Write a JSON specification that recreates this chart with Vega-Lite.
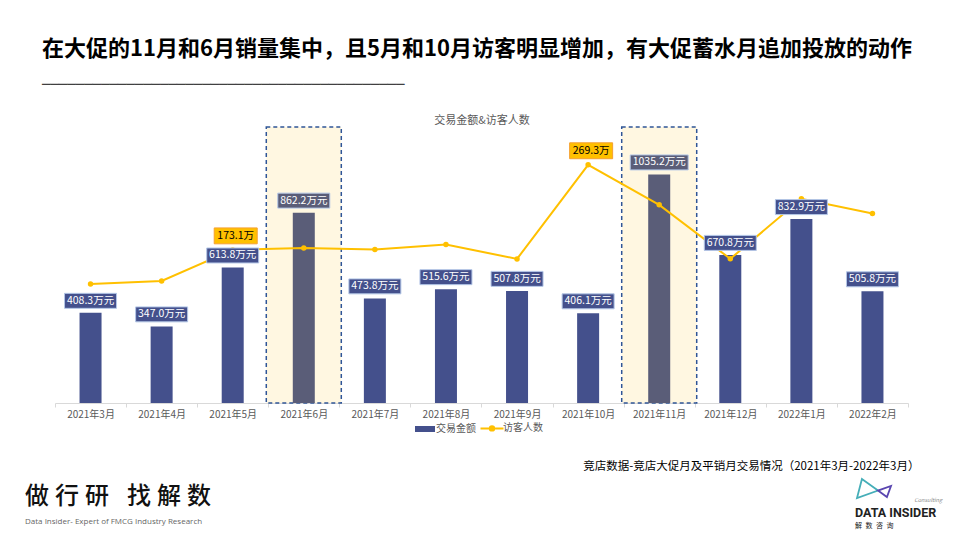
{
  "$schema": "https://vega.github.io/schema/vega-lite/v6.json",
  "width": 853,
  "height": 276,
  "autosize": {"type": "none"},
  "padding": {"left": 55, "top": 127, "right": 52, "bottom": 137},
  "background": "white",
  "config": {"view": {"stroke": null}, "font": "Noto Sans CJK SC"},
  "data": {"values": [
    {"month": "2021年3月", "sales": 408.3, "visitors": 134.6, "promo": false},
    {"month": "2021年4月", "sales": 347.0, "visitors": 138.0, "promo": false},
    {"month": "2021年5月", "sales": 613.8, "visitors": 173.1, "promo": false},
    {"month": "2021年6月", "sales": 862.2, "visitors": 175.3, "promo": true},
    {"month": "2021年7月", "sales": 473.8, "visitors": 173.4, "promo": false},
    {"month": "2021年8月", "sales": 515.6, "visitors": 179.1, "promo": false},
    {"month": "2021年9月", "sales": 507.8, "visitors": 162.9, "promo": false},
    {"month": "2021年10月", "sales": 406.1, "visitors": 269.3, "promo": false},
    {"month": "2021年11月", "sales": 1035.2, "visitors": 224.0, "promo": true},
    {"month": "2021年12月", "sales": 670.8, "visitors": 163.0, "promo": false},
    {"month": "2022年1月", "sales": 832.9, "visitors": 230.8, "promo": false},
    {"month": "2022年2月", "sales": 505.8, "visitors": 214.1, "promo": false}
  ]},
  "title": {
    "text": "在大促的11月和6月销量集中，且5月和10月访客明显增加，有大促蓄水月追加投放的动作",
    "subtitle": "───────────────────────────────────────────",
    "anchor": "start",
    "frame": "group",
    "dx": -13,
    "offset": 21,
    "fontSize": 22,
    "fontWeight": "bold",
    "color": "#000000",
    "font": "Noto Sans CJK SC",
    "subtitleFont": "DejaVu Sans",
    "subtitleFontSize": 14,
    "subtitleColor": "#404040",
    "subtitlePadding": 17
  },
  "resolve": {"scale": {"y": "independent"}, "axis": {"x": "independent"}},
  "layer": [
    {
      "transform": [{"filter": "datum.promo"}],
      "mark": {"type": "bar", "size": 75, "fill": "#FFF7E1", "stroke": "#2F5597", "strokeDash": [4, 3], "strokeWidth": 1.5},
      "encoding": {
        "x": {"field": "month", "type": "nominal", "sort": null,
          "scale": {"domain": ["2021年3月","2021年4月","2021年5月","2021年6月","2021年7月","2021年8月","2021年9月","2021年10月","2021年11月","2021年12月","2022年1月","2022年2月"], "paddingInner": 0, "paddingOuter": 0},
          "axis": {"orient": "top", "labels": false, "ticks": false, "domain": false, "title": "交易金额&访客人数", "titleFontSize": 11, "titleColor": "#595959", "titleFontWeight": "normal", "titlePadding": 2}},
        "y": {"datum": 1250, "type": "quantitative", "scale": {"domain": [0, 1250], "nice": false}, "axis": null},
        "y2": {"datum": 0}
      }
    },
    {
      "mark": {"type": "bar", "size": 22},
      "encoding": {
        "x": {"field": "month", "type": "nominal", "sort": null,
          "scale": {"domain": ["2021年3月","2021年4月","2021年5月","2021年6月","2021年7月","2021年8月","2021年9月","2021年10月","2021年11月","2021年12月","2022年1月","2022年2月"], "paddingInner": 0, "paddingOuter": 0},
          "axis": {"orient": "bottom", "labelAngle": 0, "labelFontSize": 10, "labelColor": "#595959", "labelPadding": 2,
            "tickBand": "extent", "ticks": true, "tickSize": 4, "tickColor": "#D9D9D9", "domainColor": "#D9D9D9",
            "title": "竞店数据-竞店大促月及平销月交易情况（2021年3月-2022年3月）", "titleFontSize": 11.5, "titleFontWeight": "normal", "titleColor": "#000000",
            "titleX": 864, "titleY": 57, "titleAlign": "right", "titleBaseline": "top"}},
        "y": {"field": "sales", "type": "quantitative", "scale": {"domain": [0, 1250], "nice": false}, "axis": null},
        "color": {
          "condition": {"test": "datum.promo", "value": "#5A5D78"},
          "datum": "交易金额",
          "scale": {"domain": ["交易金额", "访客人数"], "range": ["#44508C", "#FFC000"]},
          "legend": {
            "orient": "none", "legendX": 365, "legendY": 296, "direction": "horizontal", "title": null,
            "labelFontSize": 10, "labelColor": "#595959", "symbolSize": 400, "labelOffset": 6, "columnPadding": 0,
            "encode": {"symbols": {"update": {
              "shape": {"signal": "datum.value === '交易金额' ? 'M-1,-0.3H1V0.3H-1Z' : 'M-1.15,0H1.15M-0.22,0A0.22,0.22 0 1,0 0.22,0A0.22,0.22 0 1,0 -0.22,0Z'"},
              "fill": {"scale": "color", "field": "value"},
              "stroke": {"scale": "color", "field": "value"},
              "strokeWidth": {"signal": "datum.value === '交易金额' ? 0 : 2"},
              "opacity": {"value": 1},
              "fillOpacity": {"value": 1}
            }}}
          }
        }
      }
    },
    {
      "encoding": {
        "x": {"field": "month", "type": "nominal", "sort": null,
          "scale": {"domain": ["2021年3月","2021年4月","2021年5月","2021年6月","2021年7月","2021年8月","2021年9月","2021年10月","2021年11月","2021年12月","2022年1月","2022年2月"]},
          "axis": null},
        "y": {"field": "visitors", "type": "quantitative", "scale": {"domain": [0, 312], "nice": false}, "axis": null},
        "color": {"datum": "访客人数"}
      },
      "layer": [
        {"mark": {"type": "line", "strokeWidth": 2}},
        {"mark": {"type": "point", "filled": true, "size": 30, "opacity": 1}}
      ]
    },
    {
      "transform": [{"calculate": "format(datum.sales, '.1f') + '万元'", "as": "salesLabel"}],
      "encoding": {
        "x": {"field": "month", "type": "nominal", "sort": null,
          "scale": {"domain": ["2021年3月","2021年4月","2021年5月","2021年6月","2021年7月","2021年8月","2021年9月","2021年10月","2021年11月","2021年12月","2022年1月","2022年2月"]},
          "axis": null},
        "y": {"field": "sales", "type": "quantitative", "scale": {"domain": [0, 1250], "nice": false}, "axis": null}
      },
      "layer": [
        {
          "mark": {"type": "point", "filled": true, "size": 2704, "yOffset": -12, "stroke": "#B4C7E7", "strokeWidth": 1, "opacity": 1, "strokeOpacity": 1},
          "encoding": {
            "shape": {"condition": {"test": "datum.sales > 1000", "value": "M-1.115,-0.288H1.115V0.288H-1.115Z"}, "value": "M-1,-0.288H1V0.288H-1Z"},
            "fill": {"condition": {"test": "datum.promo", "value": "#5A5D78"}, "value": "#44508C"}
          }
        },
        {
          "mark": {"type": "text", "yOffset": -12, "fontSize": 10.5, "color": "#FFFFFF", "baseline": "middle", "align": "center"},
          "encoding": {"text": {"field": "salesLabel"}}
        }
      ]
    },
    {
      "transform": [
        {"filter": "datum.month === '2021年5月' || datum.month === '2021年10月'"},
        {"calculate": "format(datum.visitors, '.1f') + '万'", "as": "visitorLabel"}
      ],
      "encoding": {
        "x": {"field": "month", "type": "nominal", "sort": null,
          "scale": {"domain": ["2021年3月","2021年4月","2021年5月","2021年6月","2021年7月","2021年8月","2021年9月","2021年10月","2021年11月","2021年12月","2022年1月","2022年2月"]},
          "axis": null},
        "y": {"field": "visitors", "type": "quantitative", "scale": {"domain": [0, 312], "nice": false}, "axis": null}
      },
      "layer": [
        {
          "mark": {"type": "point", "filled": true, "size": 1849, "shape": "M-1,-0.37H1V0.37H-1Z", "xOffset": 3, "yOffset": -14, "fill": "#FFC000", "stroke": "#F5A030", "strokeWidth": 1, "opacity": 1}
        },
        {
          "mark": {"type": "text", "xOffset": 3, "yOffset": -14, "fontSize": 10.5, "color": "#000000", "baseline": "middle", "align": "center"},
          "encoding": {"text": {"field": "visitorLabel"}}
        }
      ]
    },
    {
      "data": {"values": [{}]},
      "layer": [
        {"mark": {"type": "text", "text": "做\u2005行\u2005研\u2002\u2005找\u2005解\u2005数", "x": -30, "y": 370, "align": "left", "baseline": "middle", "fontSize": 24, "color": "#111111", "fontWeight": 500}},
        {"mark": {"type": "text", "text": "Data Insider- Expert of FMCG Industry Research", "x": -30, "y": 395, "align": "left", "baseline": "middle", "fontSize": 8, "color": "#666666", "font": "Open Sans"}},
        {"mark": {"type": "point", "x": 819, "y": 361.5, "size": 1156, "filled": false, "opacity": 1, "strokeWidth": 1.8, "stroke": "#45AEB8", "shape": "M0.235,0.121L-0.71,-0.56L-1,0.56Z"}},
        {"mark": {"type": "point", "x": 819, "y": 361.5, "size": 1156, "filled": false, "opacity": 1, "strokeWidth": 1.8, "stroke": "#5A46B0", "shape": "M0.235,0.121L0.76,0.5L1,-0.15Z"}},
        {"mark": {"type": "text", "text": "DATA INSIDER", "x": 800, "y": 386, "align": "left", "baseline": "middle", "fontSize": 12.5, "fontWeight": "bold", "color": "#222222", "font": "Roboto"}},
        {"mark": {"type": "text", "text": "解\u2002数\u2002咨\u2002询", "x": 800, "y": 399, "align": "left", "baseline": "middle", "fontSize": 7, "color": "#222222"}},
        {"mark": {"type": "text", "text": "Consulting", "x": 887, "y": 373, "align": "right", "baseline": "middle", "fontSize": 5.5, "color": "#888888", "fontStyle": "italic"}}
      ]
    }
  ]
}
